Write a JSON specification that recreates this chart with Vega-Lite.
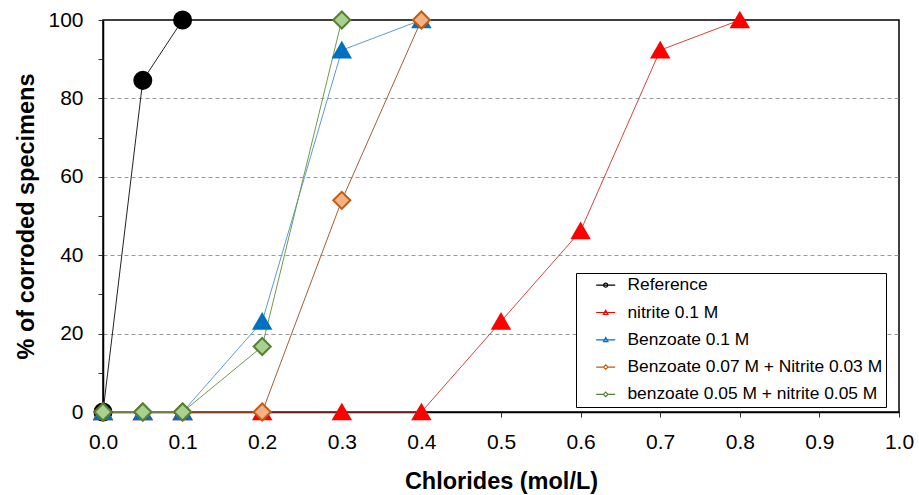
{
  "$schema": "https://vega.github.io/schema/vega-lite/v6.json",
  "width": 796,
  "height": 392,
  "autosize": {"type": "none"},
  "padding": {"left": 103, "top": 20, "right": 20, "bottom": 83},
  "background": "white",
  "config": {
    "font": "Liberation Sans",
    "view": {"stroke": "black", "strokeWidth": 1.5},
    "axis": {"labelFont": "Liberation Sans", "titleFont": "Liberation Sans", "labelColor": "black", "titleColor": "black", "domainColor": "black", "tickColor": "#333333", "domainWidth": 1.5, "labelFlush": false}
  },
  "data": {"values": [
    {"x": 0.0, "y": 0, "series": "Reference"},
    {"x": 0.05, "y": 84.6, "series": "Reference"},
    {"x": 0.1, "y": 100, "series": "Reference"},
    {"x": 0.0, "y": 0, "series": "nitrite 0.1 M"},
    {"x": 0.05, "y": 0, "series": "nitrite 0.1 M"},
    {"x": 0.1, "y": 0, "series": "nitrite 0.1 M"},
    {"x": 0.2, "y": 0, "series": "nitrite 0.1 M"},
    {"x": 0.3, "y": 0, "series": "nitrite 0.1 M"},
    {"x": 0.4, "y": 0, "series": "nitrite 0.1 M"},
    {"x": 0.5, "y": 23.1, "series": "nitrite 0.1 M"},
    {"x": 0.6, "y": 46.2, "series": "nitrite 0.1 M"},
    {"x": 0.7, "y": 92.3, "series": "nitrite 0.1 M"},
    {"x": 0.8, "y": 100, "series": "nitrite 0.1 M"},
    {"x": 0.0, "y": 0, "series": "Benzoate 0.1 M"},
    {"x": 0.05, "y": 0, "series": "Benzoate 0.1 M"},
    {"x": 0.1, "y": 0, "series": "Benzoate 0.1 M"},
    {"x": 0.2, "y": 23.1, "series": "Benzoate 0.1 M"},
    {"x": 0.3, "y": 92.3, "series": "Benzoate 0.1 M"},
    {"x": 0.4, "y": 100, "series": "Benzoate 0.1 M"},
    {"x": 0.0, "y": 0, "series": "Benzoate 0.07 M + Nitrite 0.03 M"},
    {"x": 0.05, "y": 0, "series": "Benzoate 0.07 M + Nitrite 0.03 M"},
    {"x": 0.1, "y": 0, "series": "Benzoate 0.07 M + Nitrite 0.03 M"},
    {"x": 0.2, "y": 0, "series": "Benzoate 0.07 M + Nitrite 0.03 M"},
    {"x": 0.3, "y": 54, "series": "Benzoate 0.07 M + Nitrite 0.03 M"},
    {"x": 0.4, "y": 100, "series": "Benzoate 0.07 M + Nitrite 0.03 M"},
    {"x": 0.0, "y": 0, "series": "benzoate 0.05 M + nitrite 0.05 M"},
    {"x": 0.05, "y": 0, "series": "benzoate 0.05 M + nitrite 0.05 M"},
    {"x": 0.1, "y": 0, "series": "benzoate 0.05 M + nitrite 0.05 M"},
    {"x": 0.2, "y": 16.7, "series": "benzoate 0.05 M + nitrite 0.05 M"},
    {"x": 0.3, "y": 100, "series": "benzoate 0.05 M + nitrite 0.05 M"}
  ]},
  "encoding": {
    "x": {
      "field": "x", "type": "quantitative",
      "scale": {"domain": [0, 1], "nice": false, "zero": false},
      "axis": {
        "values": [0, 0.1, 0.2, 0.3, 0.4, 0.5, 0.6, 0.7, 0.8, 0.9, 1.0],
        "format": ".1f", "grid": false, "tickSize": 5, "labelPadding": 14,
        "labelFontSize": 21, "title": "Chlorides (mol/L)", "titleFontSize": 23.5,
        "titleFontWeight": "bold", "titlePadding": 17
      }
    },
    "y": {
      "field": "y", "type": "quantitative",
      "scale": {"domain": [0, 100], "nice": false},
      "axis": {
        "values": [0, 10, 20, 30, 40, 50, 60, 70, 80, 90, 100],
        "labelExpr": "datum.value % 20 === 0 ? datum.label : ''",
        "grid": true,
        "gridColor": "#999999",
        "gridDash": [4, 3],
        "gridOpacity": {"condition": {"test": "datum.value % 20 === 0 && datum.value > 0 && datum.value < 100", "value": 1}, "value": 0},
        "tickSize": 5, "labelPadding": 15, "labelFontSize": 21,
        "title": "% of corroded specimens", "titleFontSize": 23.5,
        "titleFontWeight": "bold", "titlePadding": 9
      }
    }
  },
  "layer": [
    {
      "mark": {"type": "line", "strokeWidth": 1},
      "encoding": {
        "color": {
          "field": "series", "type": "nominal",
          "scale": {
            "domain": ["Reference", "nitrite 0.1 M", "Benzoate 0.1 M", "Benzoate 0.07 M + Nitrite 0.03 M", "benzoate 0.05 M + nitrite 0.05 M"],
            "range": ["#222222", "#D04545", "#5B9BD5", "#A0603A", "#6F9C4B"]
          },
          "legend": null
        },
        "order": {"field": "x", "type": "quantitative"}
      }
    },
    {
      "mark": {"type": "point", "opacity": 1, "strokeWidth": 2},
      "encoding": {
        "shape": {
          "field": "series", "type": "nominal",
          "scale": {
            "domain": ["Reference", "nitrite 0.1 M", "Benzoate 0.1 M", "Benzoate 0.07 M + Nitrite 0.03 M", "benzoate 0.05 M + nitrite 0.05 M"],
            "range": ["circle", "triangle-up", "triangle-up", "diamond", "diamond"]
          },
          "legend": null
        },
        "fill": {
          "field": "series", "type": "nominal",
          "scale": {
            "domain": ["Reference", "nitrite 0.1 M", "Benzoate 0.1 M", "Benzoate 0.07 M + Nitrite 0.03 M", "benzoate 0.05 M + nitrite 0.05 M"],
            "range": ["#000000", "#FF0000", "#0070C0", "#F4B183", "#A9D18E"]
          },
          "legend": null
        },
        "stroke": {
          "field": "series", "type": "nominal",
          "scale": {
            "domain": ["Reference", "nitrite 0.1 M", "Benzoate 0.1 M", "Benzoate 0.07 M + Nitrite 0.03 M", "benzoate 0.05 M + nitrite 0.05 M"],
            "range": ["#000000", "#FF0000", "#0070C0", "#C55A11", "#548235"]
          },
          "legend": null
        },
        "size": {
          "field": "series", "type": "nominal",
          "scale": {
            "domain": ["Reference", "nitrite 0.1 M", "Benzoate 0.1 M", "Benzoate 0.07 M + Nitrite 0.03 M", "benzoate 0.05 M + nitrite 0.05 M"],
            "range": [290, 290, 290, 390, 390]
          },
          "legend": null
        }
      }
    },
    {
      "mark": {"type": "point", "opacity": 0, "strokeWidth": 1.2, "size": 100},
      "encoding": {
        "shape": {
          "field": "series", "type": "nominal",
          "scale": {
            "domain": ["Reference", "nitrite 0.1 M", "Benzoate 0.1 M", "Benzoate 0.07 M + Nitrite 0.03 M", "benzoate 0.05 M + nitrite 0.05 M"],
            "range": [
              "M-1.9,0H1.9M-0.4,0A0.4,0.4,0,1,0,0.4,0A0.4,0.4,0,1,0,-0.4,0Z",
              "M-1.9,0H1.9M-0.45,0.38L0,-0.45L0.45,0.38Z",
              "M-1.9,0H1.9M-0.45,0.38L0,-0.45L0.45,0.38Z",
              "M-1.9,0H-0.45M0.45,0H1.9M-0.45,0L0,-0.45L0.45,0L0,0.45Z",
              "M-1.9,0H-0.45M0.45,0H1.9M-0.45,0L0,-0.45L0.45,0L0,0.45Z"
            ]
          },
          "legend": {
            "title": null, "orient": "none", "legendX": 473, "legendY": 253,
            "strokeColor": "black", "fillColor": "white", "padding": 3.5,
            "labelFont": "Liberation Sans", "labelFontSize": 17.4, "labelColor": "black",
            "symbolSize": 100, "symbolOffset": 17.5, "labelOffset": 13, "rowPadding": 8.3,
            "symbolStrokeWidth": 1.2, "labelLimit": 400,
            "encode": {
              "symbols": {"update": {"opacity": {"value": 1}}},
              "legend": {"update": {"width": {"value": 311}}}
            }
          }
        },
        "fill": {
          "field": "series", "type": "nominal",
          "scale": {
            "domain": ["Reference", "nitrite 0.1 M", "Benzoate 0.1 M", "Benzoate 0.07 M + Nitrite 0.03 M", "benzoate 0.05 M + nitrite 0.05 M"],
            "range": ["#000000", "#FF0000", "#0070C0", "#F4B183", "#A9D18E"]
          },
          "legend": {"title": null}
        },
        "stroke": {
          "field": "series", "type": "nominal",
          "scale": {
            "domain": ["Reference", "nitrite 0.1 M", "Benzoate 0.1 M", "Benzoate 0.07 M + Nitrite 0.03 M", "benzoate 0.05 M + nitrite 0.05 M"],
            "range": ["#000000", "#FF0000", "#0070C0", "#C55A11", "#548235"]
          },
          "legend": {"title": null}
        }
      }
    }
  ],
  "resolve": {"scale": {"color": "independent", "shape": "independent", "fill": "independent", "stroke": "independent", "size": "independent"}}
}
